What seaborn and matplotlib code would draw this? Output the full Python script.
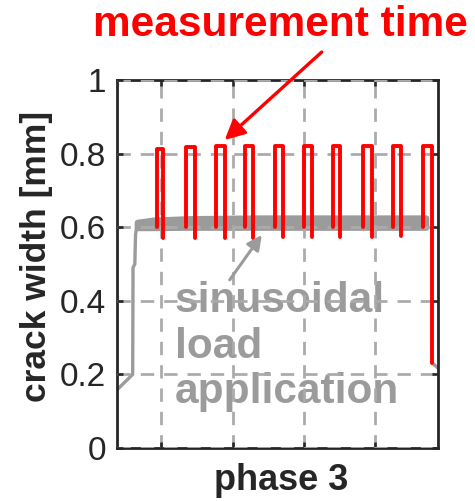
import pandas as pd
import seaborn as sns
import matplotlib.pyplot as plt

sns.set_theme(style="white")
plt.rcParams["font.family"] = ["Liberation Sans", "DejaVu Sans"]

# gray crack width record (ramp at start, small tail at the end)
ramp_t = [0.0, 2.2, 2.25, 2.5, 2.6, 2.8]
ramp_w = [0.158, 0.200, 0.490, 0.500, 0.580, 0.605]
tail_t = [44.2, 45.0]
tail_w = [0.231, 0.217]

# thick band of the sinusoidal loading (lower / upper envelope)
band_t = [2.8, 5.0, 10.0, 20.0, 43.3]
band_lo = [0.598, 0.598, 0.599, 0.599, 0.599]
band_hi = [0.614, 0.620, 0.624, 0.626, 0.626]

# red measurement pulses
pulse_start = [5.6, 9.7, 13.9, 18.0, 22.2, 26.2, 30.3, 34.5, 38.7, 42.9]
pulse_end = [6.4, 10.9, 15.1, 19.1, 23.3, 27.3, 31.3, 35.7, 39.8, 44.2]
pulse_top = [0.812, 0.818, 0.82, 0.82, 0.82, 0.82, 0.82, 0.82, 0.82, 0.82]
pulse_low = [0.570, 0.570, 0.572, 0.572, 0.573, 0.573, 0.574, 0.574, 0.575, 0.231]
pulse_base = 0.600

yticks = [0, 0.2, 0.4, 0.6, 0.8, 1]
ytick_labels = ["0", "0.2", "0.4", "0.6", "0.8", "1"]
xticks = [6.2, 16.2, 26.2, 36.2]

gray = "#9b9b9b"
dark = "#262626"

# tables for seaborn
gray_df = pd.DataFrame({
    "t": ramp_t + tail_t,
    "w": ramp_w + tail_w,
    "seg": [0] * len(ramp_t) + [1] * len(tail_t),
})
rows = []
for i, (a, b, top, low) in enumerate(zip(pulse_start, pulse_end, pulse_top, pulse_low)):
    for t, w in [(a, pulse_base), (a, top), (b, top), (b, low)]:
        rows.append({"t": t, "w": w, "pulse": i})
red_df = pd.DataFrame(rows)

fig = plt.figure(figsize=(4.75, 5.01), dpi=100)
ax = fig.add_axes([0.2463, 0.1058, 0.6758, 0.7345])

ax.fill_between(band_t, band_lo, band_hi, color=gray, lw=4, edgecolor=gray,
                joinstyle="round", zorder=2)
sns.lineplot(data=gray_df, x="t", y="w", units="seg", estimator=None, sort=False,
             color=gray, lw=2.4, ax=ax, zorder=2)
sns.lineplot(data=red_df, x="t", y="w", units="pulse", estimator=None, sort=False,
             color="red", lw=2.8, ax=ax, zorder=3, solid_joinstyle="round")

ax.set_xlim(0, 45)
ax.set_ylim(0, 1)
ax.set_xticks(xticks)
ax.set_xticklabels([])
ax.set_yticks(yticks)
ax.set_yticklabels(ytick_labels)
ax.set_axisbelow(False)
ax.grid(True, linestyle=(0, (4.8, 3.6)), color="#ababab", lw=2.0)
ax.tick_params(axis="both", direction="in", length=4, width=1.9, color=dark,
               labelsize=24, labelcolor=dark, pad=8, top=True, right=True,
               left=True, bottom=True)
for s in ax.spines.values():
    s.set_linewidth(2.0)
    s.set_color(dark)

ax.set_xlabel("phase 3", fontsize=26, fontweight="bold", color=dark)
ax.set_ylabel("crack width [mm]", fontsize=25.5, fontweight="bold", color=dark)
ax.xaxis.set_label_coords(0.51, -0.04)
ax.yaxis.set_label_coords(-0.20, 0.52)

# annotations
fig.text(280 / 475, 1 - 25 / 501, "measurement time", color="red", fontsize=30.5,
         fontweight="bold", ha="center", va="center")
ax.annotate("", xy=(15.1, 0.837), xytext=(28.7, 1.076),
            arrowprops=dict(arrowstyle="-|>", color="red", lw=2.4, mutation_scale=30,
                            shrinkA=0, shrinkB=0),
            annotation_clip=False)
ax.annotate("", xy=(20.3, 0.579), xytext=(15.8, 0.457),
            arrowprops=dict(arrowstyle="-|>", color=gray, lw=2.2, mutation_scale=22,
                            shrinkA=0, shrinkB=0))
for txt, yb in [("sinusoidal", 0.370), ("load", 0.245), ("application", 0.122)]:
    ax.text(8.1, yb, txt, color=gray, fontsize=30.5, fontweight="bold",
            ha="left", va="baseline", zorder=1)

fig.savefig("out.png", dpi=100)
